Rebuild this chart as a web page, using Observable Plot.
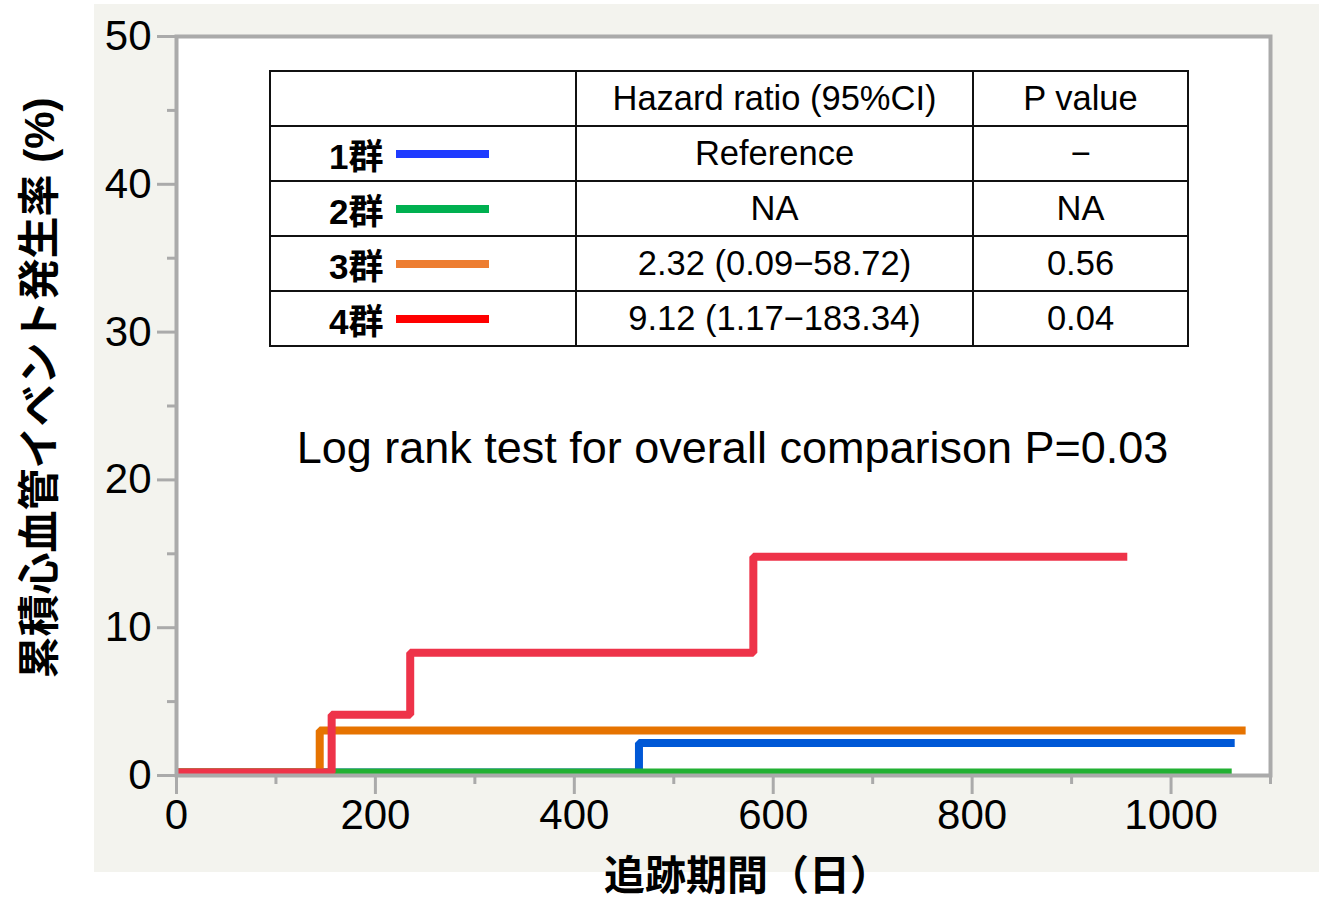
<!DOCTYPE html>
<html>
<head>
<meta charset="utf-8">
<script src="https://cdn.jsdelivr.net/npm/d3@7"></script>
<script src="https://cdn.jsdelivr.net/npm/@observablehq/plot@0.6"></script>
<style>
  html, body { margin: 0; padding: 0; background: #ffffff; overflow: hidden; }
  #wrap { position: relative; width: 1324px; height: 901px; }
  #panel { position: absolute; left: 94px; top: 4px; width: 1225px; height: 868px; background: #f3f3ee; }
  #chart { position: absolute; left: 0; top: 0; }
  #tbl { position: absolute; left: 269px; top: 70px; border-collapse: collapse; table-layout: fixed;
         font-family: "Liberation Sans", Arial, "Noto Sans CJK JP", sans-serif; font-size: 34.5px; color: #000; background: #fff; }
  #tbl td { border: 2.5px solid #111; height: 55px; padding: 0; text-align: center; vertical-align: middle; box-sizing: border-box; }
  .lab { display: flex; align-items: center; padding-left: 58px; font-weight: bold; font-size: 35px; }
  .sw { display: inline-block; width: 93px; height: 8px; margin-left: 13px; }
</style>
</head>
<body>
<div id="wrap">
  <div id="panel"></div>
  <div id="chart"></div>
  <table id="tbl"></table>
</div>
<script>
// ---- data ----
const groups = ["1群", "2群", "3群", "4群"];
const lineColors = ["#0058d6", "#22b033", "#e67300", "#ee3349"];
const legendColors = ["#1f3bff", "#00b050", "#ed7d31", "#ff0000"];

const g1Days = [0, 465, 1064];
const g1Pct  = [0, 2.0, 2.0];
const g2Days = [0, 1061];
const g2Pct  = [0, 0];
const g3Days = [0, 144, 1075];
const g3Pct  = [0, 2.85, 2.85];
const g4Days = [0, 156, 235, 580, 956];
const g4Pct  = [0, 3.9, 8.1, 14.6, 14.6];

const hazardRatios = ["Reference", "NA", "2.32 (0.09−58.72)", "9.12 (1.17−183.34)"];
const pValues = ["−", "NA", "0.56", "0.04"];
const tableHeader = ["", "Hazard ratio (95%CI)", "P value"];

const xMajorTicks = [0, 200, 400, 600, 800, 1000];
const xMinorTicks = [100, 300, 500, 700, 900, 1100];
const yMajorTicks = [0, 10, 20, 30, 40, 50];
const yMinorTicks = [5, 15, 25, 35, 45];

const xTitle = "追跡期間（日）";
const yTitle = "累積心血管イベント発生率 (%)";
const logRankNote = "Log rank test for overall comparison P=0.03";

// ---- build series table ----
const seriesDays = [g1Days, g2Days, g3Days, g4Days];
const seriesPct = [g1Pct, g2Pct, g3Pct, g4Pct];
const series = groups.map((g, i) => seriesDays[i].map((d, j) => ({group: g, day: d, pct: seriesPct[i][j]})));

const font = "'Liberation Sans', Arial, 'Noto Sans CJK JP', sans-serif";
const frameGray = "#aaaaaa";

const lineOpts = (i) => ({x: "day", y: "pct", curve: "step-after", stroke: lineColors[i], strokeWidth: 8,
  strokeLinecap: "butt", strokeLinejoin: "miter", dy: -3});

const chart = Plot.plot({
  width: 1324,
  height: 901,
  marginTop: 36,
  marginRight: 54,
  marginBottom: 126,
  marginLeft: 176,
  style: {background: "transparent", fontFamily: font, color: "#000"},
  x: {domain: [0, 1100]},
  y: {domain: [0, 50]},
  marks: [
    Plot.frame({fill: "#ffffff", stroke: "none"}),
    Plot.line(series[0], lineOpts(0)),
    Plot.line(series[1], lineOpts(1)),
    Plot.line(series[2], lineOpts(2)),
    Plot.line(series[3], lineOpts(3)),
    Plot.frame({stroke: frameGray, strokeWidth: 4}),
    Plot.axisX({ticks: xMajorTicks, tickSize: 19, tickPadding: 5, stroke: frameGray, strokeWidth: 3,
      fill: "#000", fontSize: 42, label: null, tickFormat: d => String(d)}),
    Plot.axisX({ticks: xMinorTicks, tickSize: 9, stroke: frameGray, strokeWidth: 3, label: null, tickFormat: () => ""}),
    Plot.axisY({ticks: yMajorTicks, tickSize: 19, tickPadding: 6, stroke: frameGray, strokeWidth: 3,
      fill: "#000", fontSize: 42, label: null, tickFormat: d => String(d)}),
    Plot.axisY({ticks: yMinorTicks, tickSize: 9, stroke: frameGray, strokeWidth: 3, label: null, tickFormat: () => ""}),
    Plot.text([yTitle], {text: d => d, frameAnchor: "left", dx: -136, dy: -18, rotate: -90,
      fontSize: 42, fontWeight: "bold", fill: "#000", lineAnchor: "middle", textAnchor: "middle"}),
    Plot.text([xTitle], {text: d => d, frameAnchor: "bottom", dx: 24, dy: 101,
      fontSize: 41, fontWeight: "bold", fill: "#000", lineAnchor: "middle", textAnchor: "middle"}),
    Plot.text([logRankNote], {text: d => d, frameAnchor: "top", dx: 9, dy: 412,
      fontSize: 45, fill: "#000", lineAnchor: "middle", textAnchor: "middle"})
  ]
});
document.getElementById("chart").appendChild(chart);

// ---- table ----
const tbl = document.getElementById("tbl");
const colWidths = [306, 397, 215];
const cg = document.createElement("colgroup");
colWidths.forEach(w => { const c = document.createElement("col"); c.style.width = w + "px"; cg.appendChild(c); });
tbl.appendChild(cg);
const hr = document.createElement("tr");
tableHeader.forEach(t => { const td = document.createElement("td"); td.textContent = t; hr.appendChild(td); });
tbl.appendChild(hr);
groups.forEach((g, i) => {
  const tr = document.createElement("tr");
  const td0 = document.createElement("td");
  const lab = document.createElement("div");
  lab.className = "lab";
  const s = document.createElement("span"); s.textContent = g;
  const sw = document.createElement("span"); sw.className = "sw"; sw.style.background = legendColors[i];
  lab.appendChild(s); lab.appendChild(sw);
  td0.appendChild(lab);
  const td1 = document.createElement("td"); td1.textContent = hazardRatios[i];
  const td2 = document.createElement("td"); td2.textContent = pValues[i];
  tr.appendChild(td0); tr.appendChild(td1); tr.appendChild(td2);
  tbl.appendChild(tr);
});
tbl.style.width = colWidths.reduce((a, b) => a + b, 0) + "px";
</script>
</body>
</html>
